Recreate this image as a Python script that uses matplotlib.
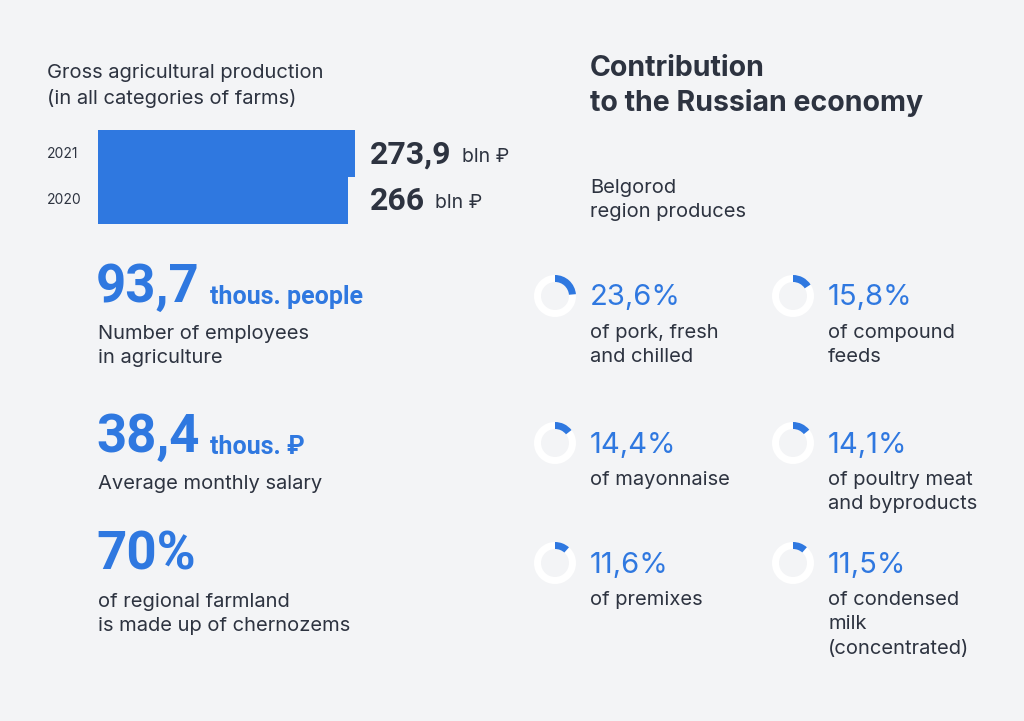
import matplotlib.pyplot as plt
from matplotlib.patches import Wedge, Rectangle

# data
years = ["2021", "2020"]
production = [273.9, 266]
production_labels = ["273,9", "266"]

stats_values = ["93,7", "38,4", "70%"]
stats_units = ["thous. people", "thous. ₽", ""]
stats_texts = ["Number of employees\nin agriculture", "Average monthly salary",
               "of regional farmland\nis made up of chernozems"]

shares = [23.6, 15.8, 14.4, 14.1, 11.6, 11.5]
share_labels = ["23,6%", "15,8%", "14,4%", "14,1%", "11,6%", "11,5%"]
share_texts = ["of pork, fresh\nand chilled", "of compound\nfeeds", "of mayonnaise",
               "of poultry meat\nand byproducts", "of premixes",
               "of condensed\nmilk\n(concentrated)"]

BG = "#f3f4f6"
BLUE = "#2f78e0"
DARK = "#2d3340"
plt.rcParams["font.family"] = "Inter"

fig = plt.figure(figsize=(10.24, 7.21), dpi=100, facecolor=BG)
ax = fig.add_axes([0, 0, 1, 1])
ax.set_xlim(0, 1024)
ax.set_ylim(721, 0)
ax.axis("off")
fig.canvas.draw()
renderer = fig.canvas.get_renderer()

# headers
ax.text(47, 86, "Gross agricultural production\n(in all categories of farms)",
        fontsize=14.5, color=DARK, va="center", linespacing=1.45)
ax.text(590, 86, "Contribution\nto the Russian economy", fontsize=20.5,
        fontweight="bold", color=DARK, va="center", linespacing=1.3)
ax.text(590, 200, "Belgorod\nregion produces", fontsize=14.5, color=DARK,
        va="center", linespacing=1.45)

# bars
scale = (355 - 98) / production[0]
for i, (yr, v, lab) in enumerate(zip(years, production, production_labels)):
    yc = 153.5 + i * 47
    ax.add_patch(Rectangle((98, yc - 23.5), v * scale, 47, color=BLUE, lw=0))
    ax.text(47, yc, yr, fontsize=10, color=DARK, va="center")
    t = ax.text(370, yc + 1, lab, fontsize=23, fontweight="bold", color=DARK,
                va="center", family="Roboto")
    bb = t.get_window_extent(renderer)
    ax.text(bb.x1 + 10, yc + 3, "bln ₽", fontsize=14, color=DARK, va="center")

# left stats
for i, (v, u, txt) in enumerate(zip(stats_values, stats_units, stats_texts)):
    yc = [287, 437, 555][i]
    t = ax.text(96, yc, v, fontsize=38, fontweight="bold", color=BLUE,
                va="center", family="Roboto")
    bb = t.get_window_extent(renderer)
    if u:
        ax.text(bb.x1 + 10, yc + 10, u, fontsize=18, fontweight="bold",
                color=BLUE, va="center", family="Roboto")
    ax.text(98, yc + 38, txt, fontsize=14.5, color=DARK, va="top", linespacing=1.45)

# donuts
centers = [(555, 296), (793, 296), (555, 443), (793, 443), (555, 563), (793, 563)]
for (cx, cy), s, lab, txt in zip(centers, shares, share_labels, share_texts):
    ax.add_patch(Wedge((cx, cy), 21, 0, 360, width=7, color="white", lw=0))
    # y axis inverted: angles go clockwise visually
    ax.add_patch(Wedge((cx, cy), 21, -90, -90 + 3.6 * s, width=7, color=BLUE, lw=0))
    ax.text(cx + 35, cy + 2, lab, fontsize=21, color=BLUE, va="center")
    ax.text(cx + 35, cy + 28, txt, fontsize=14.5, color=DARK, va="top", linespacing=1.45)

fig.savefig("out.png", dpi=100, facecolor=BG)
